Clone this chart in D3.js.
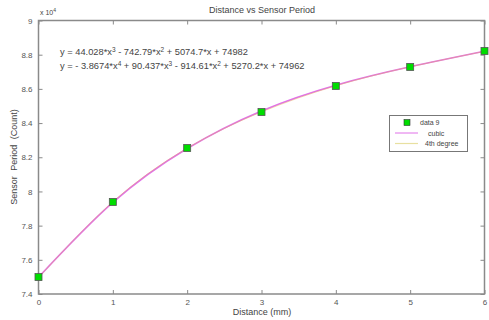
<!DOCTYPE html>
<html><head><meta charset="utf-8">
<script src="https://cdn.jsdelivr.net/npm/d3@7"></script>
<style>body{margin:0;background:#fff}svg{display:block}text{font-family:"Liberation Sans",Arial,sans-serif;fill:#444}</style>
</head><body><svg id="c" width="489" height="320"></svg>
<script>
const distance = [0, 1, 2, 3, 4, 5, 6];
const sensorPeriod = [74990, 79385, 82540, 84645, 86170, 87285, 88215];
const cubicFit = [74982, 79358, 82512, 84710, 86214, 87289, 88200];
const quarticFit = [74962, 79390, 82530, 84650, 86180, 87290, 88195];
const xTicks = [0, 1, 2, 3, 4, 5, 6];
const yTicks = [74000, 76000, 78000, 80000, 82000, 84000, 86000, 88000, 90000];
const yTickLabels = ["7.4", "7.6", "7.8", "8", "8.2", "8.4", "8.6", "8.8", "9"];
const legendLabels = ["data 9", "cubic", "4th degree"];
const eq1 = ["y = 44.028*x", "3", " - 742.79*x", "2", " + 5074.7*x + 74982"];
const eq2 = ["y = - 3.8674*x", "4", " + 90.437*x", "3", " - 914.61*x", "2", " + 5270.2*x + 74962"];

const svg = d3.select("#c");
const L = 38.5, R = 484.5, T = 20.5, B = 294;
const x = d3.scaleLinear().domain([0, 6]).range([L, R]);
const y = d3.scaleLinear().domain([74000, 90000]).range([B, T]);
const axisCol = "#8a8a8a";

svg.append("rect").attr("x", L).attr("y", T).attr("width", R - L).attr("height", B - T)
  .attr("fill", "none").attr("stroke", axisCol).attr("stroke-width", 1.5);

const gx = svg.append("g").attr("transform", `translate(0,${B})`)
  .call(d3.axisBottom(x).tickValues(xTicks).tickSizeInner(-4).tickSizeOuter(0).tickPadding(7).tickFormat(d3.format("d")));
const gxt = svg.append("g").attr("transform", `translate(0,${T})`)
  .call(d3.axisTop(x).tickValues(xTicks).tickSizeInner(-4).tickSizeOuter(0).tickFormat(""));
const gy = svg.append("g").attr("transform", `translate(${L},0)`)
  .call(d3.axisLeft(y).tickValues(yTicks).tickSizeInner(-4).tickSizeOuter(0).tickPadding(6).tickFormat((d, i) => yTickLabels[i]));
const gyr = svg.append("g").attr("transform", `translate(${R},0)`)
  .call(d3.axisRight(y).tickValues(yTicks).tickSizeInner(-4).tickSizeOuter(0).tickFormat(""));
[gx, gxt, gy, gyr].forEach(g => {
  g.select(".domain").remove();
  g.selectAll(".tick line").attr("stroke", axisCol).attr("stroke-width", 1);
  g.selectAll("text").style("font-size", "8px").style("fill", "#555")
   .style("font-family", '"Liberation Sans",Arial,sans-serif');
});
gx.selectAll("text").attr("dy", "0.55em");

const ex = svg.append("text").attr("x", 40).attr("y", 15).style("font-size", "7px");
ex.append("tspan").text("x 10");
ex.append("tspan").attr("dy", -3).style("font-size", "5px").text("4");

const line = d3.line().x((d, i) => x(distance[i])).y(d => y(d)).curve(d3.curveNatural);
svg.append("path").datum(cubicFit).attr("d", line).attr("fill", "none")
  .attr("stroke", "#e070e8").attr("stroke-width", 1.6);
svg.append("path").datum(quarticFit).attr("d", line).attr("fill", "none")
  .attr("stroke", "#e8b060").attr("stroke-width", 0.8).attr("stroke-opacity", 0.6);

svg.selectAll("rect.pt").data(sensorPeriod).join("rect").attr("class", "pt")
  .attr("x", (d, i) => x(distance[i]) - 3.5).attr("y", d => y(d) - 3.5)
  .attr("width", 7).attr("height", 7).attr("fill", "#00dd00").attr("stroke", "#555").attr("stroke-width", 0.8);

svg.append("text").attr("x", 262).attr("y", 13).attr("text-anchor", "middle").style("font-size", "9px").text("Distance vs Sensor Period");
svg.append("text").attr("x", 262).attr("y", 315).attr("text-anchor", "middle").style("font-size", "9px").text("Distance (mm)");
svg.append("text").attr("transform", "translate(17,157) rotate(-90)").attr("text-anchor", "middle")
  .style("font-size", "9px").style("word-spacing", "3px").text("Sensor Period (Count)");

function eq(parts, yy) {
  const t = svg.append("text").attr("x", 60).attr("y", yy).style("font-size", "9.3px");
  parts.forEach((p, i) => {
    if (i % 2 === 1) t.append("tspan").attr("dy", -3.5).style("font-size", "6.5px").text(p);
    else t.append("tspan").attr("dy", i === 0 ? 0 : 3.5).text(p);
  });
}
eq(eq1, 55);
eq(eq2, 69);

const lg = svg.append("g");
lg.append("rect").attr("x", 389.5).attr("y", 115.5).attr("width", 78).attr("height", 36)
  .attr("fill", "#fff").attr("stroke", "#777").attr("stroke-width", 1);
lg.append("rect").attr("x", 404).attr("y", 119.5).attr("width", 6).attr("height", 6)
  .attr("fill", "#00dd00").attr("stroke", "#333").attr("stroke-width", 0.6);
lg.append("line").attr("x1", 395).attr("x2", 418).attr("y1", 133).attr("y2", 133).attr("stroke", "#e070e8").attr("stroke-width", 1);
lg.append("line").attr("x1", 395).attr("x2", 418).attr("y1", 143.5).attr("y2", 143.5).attr("stroke", "#e8e0a0").attr("stroke-width", 1.2);
lg.selectAll("text").data(legendLabels).join("text")
  .attr("x", (d, i) => [420, 428, 425][i]).attr("y", (d, i) => 125 + i * 10.5)
  .style("font-size", "7px").text(d => d);
</script></body></html>
